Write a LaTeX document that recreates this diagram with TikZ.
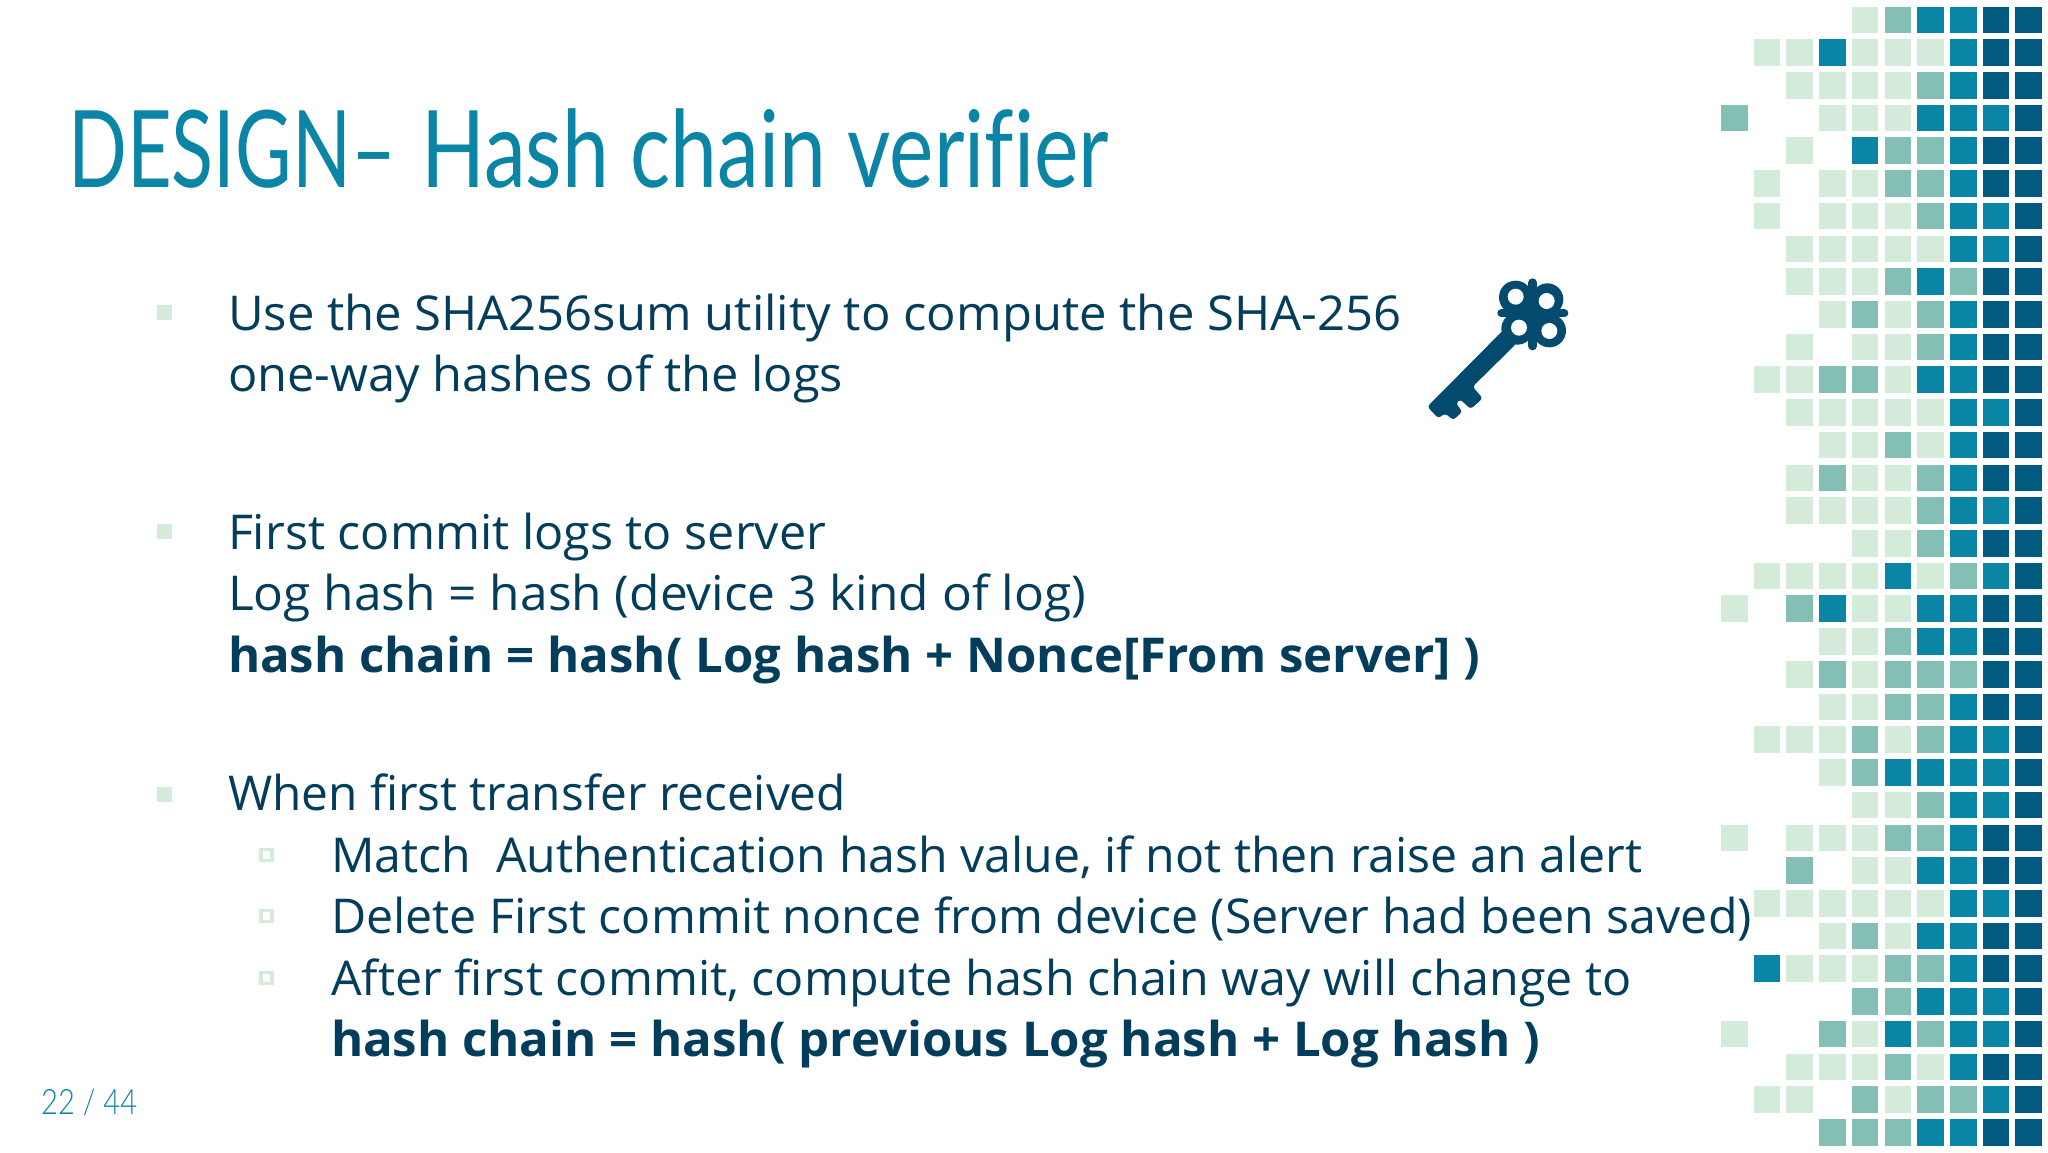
\documentclass[tikz,border=0pt]{standalone}
\usepackage{fontspec}
\usepackage{graphicx}
\setmainfont[Ligatures=NoCommon]{Open Sans}
\newfontfamily\titlef[Ligatures=NoCommon]{Lato}
\newfontfamily\pagef{Lato Light}
\definecolor{cellL}{HTML}{D5EBD9}
\definecolor{cellM}{HTML}{84BFB5}
\definecolor{cellT}{HTML}{0B85A5}
\definecolor{cellD}{HTML}{015A80}
\definecolor{bodyc}{HTML}{023E5C}
\definecolor{keyc}{HTML}{024A6E}
\newcommand{\bodyline}[5][\mdseries]{\node[bodytext] (#2) at (#3) {\resizebox{#4pt}{\height}{#1#5}};}
\tikzset{
  bodytext/.style={anchor=base west,inner sep=0pt,outer sep=0pt,text=bodyc,font=\fontsize{48}{58}\selectfont},
  bulletone/.style={fill=cellL,draw=none,minimum size=15pt,inner sep=0pt},
  bullettwo/.style={draw=cellL,line width=3.6pt,fill=white,minimum size=11pt,inner sep=0pt},
  cell/.style={draw=none,minimum size=26.6pt,inner sep=0pt,anchor=north west}
}
\begin{document}
\begin{tikzpicture}[x=1pt,y=-1pt]
\useasboundingbox[fill=white] (0,0) rectangle (2048,1152);
% mosaic
\foreach \cells [count=\i from 0] in {
{0,0,0,0,1,2,3,3,4,4},{0,1,1,3,1,1,1,3,4,4},{0,0,1,1,1,1,2,3,4,4},{2,0,0,1,1,1,3,3,3,4},
{0,0,1,0,3,2,2,3,4,4},{0,1,0,1,1,2,2,3,4,4},{0,1,0,1,1,1,2,3,3,4},{0,0,1,1,1,1,1,3,3,4},
{0,0,1,1,1,2,3,2,4,4},{0,0,0,1,2,1,2,3,4,4},{0,0,1,0,1,1,2,3,4,4},{0,1,1,2,2,1,3,3,4,4},
{0,0,1,1,1,1,1,3,3,4},{0,0,0,1,1,2,1,3,4,4},{0,0,1,2,1,1,2,3,4,4},{0,0,1,1,1,1,2,3,3,4},
{0,0,0,0,1,1,2,3,4,4},{0,1,1,1,1,3,1,2,3,4},{1,0,2,3,1,1,3,3,4,4},{0,0,0,1,1,2,3,3,4,4},
{0,0,1,2,1,2,2,2,4,4},{0,0,0,1,1,2,2,3,4,4},{0,1,1,1,2,1,2,3,3,4},{0,0,0,1,2,3,3,3,3,4},
{0,0,0,0,1,1,2,3,3,4},{1,0,1,1,1,2,2,3,4,4},{0,0,2,0,1,1,3,3,4,4},{0,1,1,1,1,1,1,3,3,4},
{0,0,0,1,2,1,3,3,4,4},{0,3,1,1,1,2,2,3,4,4},{0,0,0,0,2,2,3,3,3,4},{1,0,0,2,1,3,2,3,3,4},
{0,0,1,1,1,2,1,3,4,4},{0,1,1,0,2,1,2,2,3,4},{0,0,0,2,2,2,3,3,4,4}}
{
  \foreach \v [count=\j from 0] in \cells {
    \ifnum\v>0
      \pgfmathsetmacro{\cx}{1720.7+32.72*\j}
      \pgfmathsetmacro{\cy}{6.3+32.72*\i}
      \ifcase\v\or\def\cc{cellL}\or\def\cc{cellM}\or\def\cc{cellT}\or\def\cc{cellD}\fi
      \node[cell,fill=\cc] at (\cx,\cy) {};
    \fi
  }
}
% title and page number
\node[anchor=base west,inner sep=0pt,text=cellT,font=\titlef\fontsize{107}{120}\selectfont] (title) at (68,187) {\resizebox{328pt}{\height}{DESIGN–}\hspace{25pt}\resizebox{688pt}{\height}{Hash chain verifier}};
\node[anchor=base west,inner sep=0pt,text=cellT,font=\pagef\fontsize{35}{40}\selectfont] (page) at (41,1114) {\resizebox{96pt}{\height}{22 / 44}};
% bullets
\node[bulletone] (b1) at (164.5,312) {};
\node[bulletone] (b2) at (164.5,531) {};
\node[bulletone] (b3) at (164.5,794) {};
\node[bullettwo] (s1) at (266.5,855) {};
\node[bullettwo] (s2) at (266.5,916) {};
\node[bullettwo] (s3) at (266.5,978) {};
% body
\bodyline{l1}{228,330}{1173}{Use the SHA256sum utility to compute the SHA-256}
\bodyline{l2}{228,391}{615}{one-way hashes of the logs}
\bodyline{l3}{228,549}{598}{First commit logs to server}
\bodyline{l4}{228,610}{858}{Log hash = hash (device 3 kind of log)}
\bodyline[\bfseries]{l5}{228,672}{1252}{hash chain = hash( Log hash + Nonce[From server] )}
\bodyline{l6}{228,810}{618}{When first transfer received}
\bodyline{l7}{331,872}{1311}{Match\ \ Authentication hash value, if not then raise an alert}
\bodyline{l8}{331,933}{1421}{Delete First commit nonce from device (Server had been saved)}
\bodyline{l9}{331,995}{1301}{After first commit, compute hash chain way will change to}
\bodyline[\bfseries]{l10}{331,1056}{1209}{hash chain = hash( previous Log hash + Log hash )}
% key
\begin{scope}[shift={(1400,260)},scale=1/3,keyc]
  \fill[rounded corners=3pt] (312,208) -- (350,250) -- (218,380) -- (248,415) -- (212,447) -- (180,418) -- (168,430) -- (187,455) -- (160,480) -- (135,460) -- (115,475) -- (82,440) -- cycle;
  \fill (347,112) circle (50);
  \fill (442,118) circle (48);
  \fill (352,206) circle (48);
  \fill (448,212) circle (50);
  \fill (398,160) circle (50);
  \draw[line width=8.7pt,line cap=round] (398,68) -- (398,258);
  \draw[line width=8pt,line cap=round] (304,160) -- (493,160);
  \fill[white] (347,110) circle (24);
  \fill[white] (440,123) circle (24);
  \fill[white] (357,203) circle (24);
  \fill[white] (448,213) circle (24);
\end{scope}
\end{tikzpicture}
\end{document}
